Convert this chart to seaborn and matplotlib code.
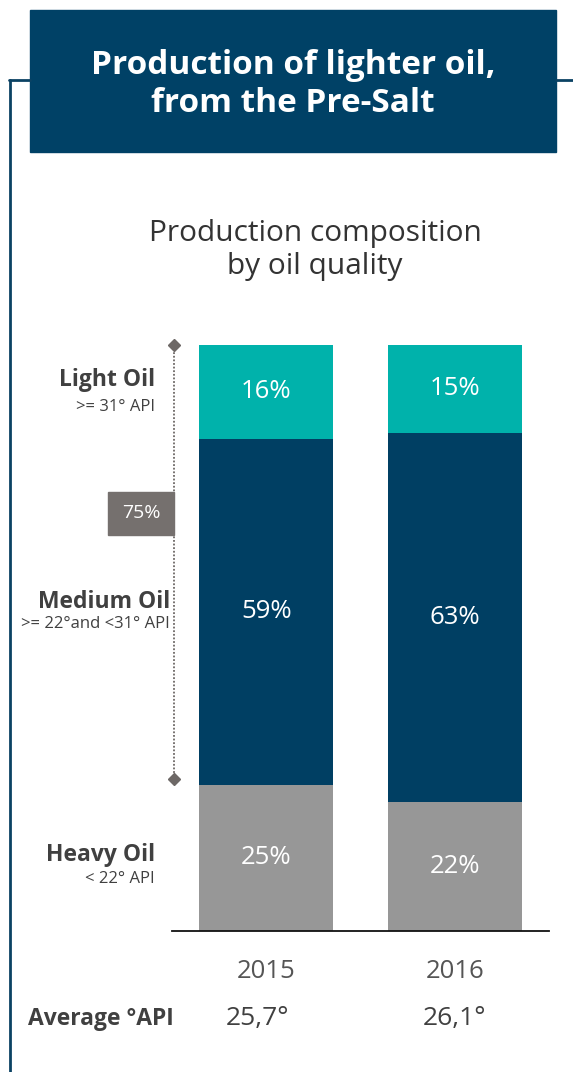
import numpy as np
import pandas as pd
import matplotlib
matplotlib.use("Agg")
import matplotlib.pyplot as plt
import matplotlib.transforms as mtransforms
from matplotlib.patches import Rectangle
from matplotlib.lines import Line2D
import seaborn as sns

# Data
years = ["2015", "2016"]
heavy = [25, 22]
medium = [59, 63]
light = [16, 15]
avg_api = ["25,7°", "26,1°"]
categories = ["Light Oil", "Medium Oil", "Heavy Oil"]
category_notes = [">= 31° API", ">= 22°and <31° API", "< 22° API"]

W, H = 573, 1072
DARK = "#003f63"
TEAL = "#00b2ab"
GREY = "#979797"
TXT = "#404040"

sns.set_style("white")
plt.rcParams["font.family"] = ["Open Sans", "DejaVu Sans"]

fig = plt.figure(figsize=(W / 100, H / 100), dpi=100)


def fx(x):
    return x / W


def fy(y):
    return 1 - y / H


# axes spanning the bar area
ax = fig.add_axes([fx(172), fy(931), fx(549) - fx(172), (931 - 345) / H])

df = pd.DataFrame({"year": years, "heavy": heavy, "medium": medium, "light": light})
df["mid_top"] = df["heavy"] + df["medium"]
df["top"] = df["mid_top"] + df["light"]

# stacked bars drawn as overlapping cumulative totals
bar_kw = dict(width=0.71, saturation=1, linewidth=0, ax=ax)
sns.barplot(data=df, x="year", y="top", color=TEAL, **bar_kw)
sns.barplot(data=df, x="year", y="mid_top", color=DARK, **bar_kw)
sns.barplot(data=df, x="year", y="heavy", color=GREY, **bar_kw)

ax.set_xlim(-0.5, 1.5)
ax.set_ylim(0, 100)
ax.set_xlabel("")
ax.set_ylabel("")
ax.set_xticks([])
ax.set_yticks([])
for s in ["left", "right", "top"]:
    ax.spines[s].set_visible(False)
ax.spines["bottom"].set_color("#111111")
ax.spines["bottom"].set_linewidth(1.3)

# segment labels
for i in range(len(years)):
    segs = [(0, heavy[i]), (heavy[i], medium[i]), (heavy[i] + medium[i], light[i])]
    for base, val in segs:
        ax.text(i, base + val / 2, f"{val}%", ha="center", va="center",
                color="white", fontsize=18.5)

# dotted bracket for light + medium of first year
trans = mtransforms.blended_transform_factory(ax.transAxes, ax.transData)
bx = 0.005
ax.plot([bx, bx], [df["top"][0], df["heavy"][0] + 1], transform=trans,
        color="#6d6866", linestyle=(0, (1, 1)), linewidth=1.3, clip_on=False)
ax.plot([bx, bx], [df["top"][0], df["heavy"][0] + 1], transform=trans,
        linestyle="none", marker="D", markersize=6, color="#6d6866", clip_on=False)

# 75% box
fig.patches.append(Rectangle((fx(108), fy(535)), fx(174) - fx(108), (535 - 492) / H,
                             transform=fig.transFigure, color="#75706e", zorder=1))
fig.text(fx(141), fy(513), f"{light[0] + medium[0]}%", ha="center", va="center",
         color="white", fontsize=14)

# title box and frame
fig.patches.append(Rectangle((fx(30), fy(152)), fx(556) - fx(30), (152 - 10) / H,
                             transform=fig.transFigure, color="#004166", zorder=1))
fig.lines.append(Line2D([fx(9.5), fx(9.5)], [fy(80), 0], transform=fig.transFigure,
                        color="#0b4263", linewidth=2))
fig.lines.append(Line2D([fx(9), fx(30)], [fy(80), fy(80)], transform=fig.transFigure,
                        color="#0b4263", linewidth=2))
fig.lines.append(Line2D([fx(556), 1], [fy(80), fy(80)], transform=fig.transFigure,
                        color="#0b4263", linewidth=2))
fig.text(fx(293), fy(85), "Production of lighter oil,\nfrom the Pre-Salt",
         ha="center", va="center", color="white", fontsize=24, fontweight="bold",
         linespacing=1.2)

fig.text(fx(315), fy(250), "Production composition\nby oil quality", ha="center",
         va="center", color="#333333", fontsize=21.5, linespacing=1.2)

# category labels on the left
label_pos = [(155, 380, 407), (170, 602, 624), (155, 855, 879)]
for name, note, (xr, y1, y2) in zip(categories, category_notes, label_pos):
    fig.text(fx(xr), fy(y1), name, ha="right", va="center", color=TXT,
             fontsize=16.5, fontweight="bold")
    fig.text(fx(xr), fy(y2), note, ha="right", va="center", color=TXT, fontsize=12)

# year labels and average API
for i, (yr, api) in enumerate(zip(years, avg_api)):
    xc = ax.transData.transform((i, 0))[0] / fig.dpi / fig.get_figwidth()
    fig.text(xc, fy(972), yr, ha="center", va="center", color="#555555", fontsize=18.5)
    fig.text(xc - fx(9) if i == 0 else xc, fy(1019), api, ha="center", va="center",
             color="#404040", fontsize=19)
fig.text(fx(28), fy(1019), "Average °API", ha="left", va="center", color=TXT,
         fontsize=16.5, fontweight="bold")

fig.savefig("out.png", dpi=100)
